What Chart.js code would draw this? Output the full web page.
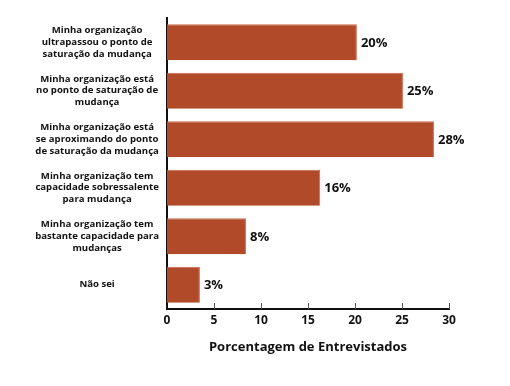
<!DOCTYPE html>
<html>
<head>
<meta charset="utf-8">
<script src="https://cdn.jsdelivr.net/npm/chart.js@4"></script>
<style>
body{margin:0;background:#fff;}
#wrap{width:510px;height:386px;position:relative;}
</style>
</head>
<body>
<div id="wrap"><canvas id="chart"></canvas></div>
<script>
// data
let categories = [
    ["Minha organização", "ultrapassou o ponto de", "saturação da mudança"],
    ["Minha organização está", "no ponto de saturação de", "mudança"],
    ["Minha organização está", "se aproximando do ponto", "de saturação da mudança"],
    ["Minha organização tem", "capacidade sobressalente", "para mudança"],
    ["Minha organização tem", "bastante capacidade para", "mudanças"],
    "Não sei"
];
let values = [20.2, 25.1, 28.4, 16.3, 8.4, 3.5];
let valueLabels = ["20%", "25%", "28%", "16%", "8%", "3%"];
let xTicks = [0, 5, 10, 15, 20, 25, 30];

const FONT = "'Open Sans', 'DejaVu Sans', sans-serif";
const TEXT = "#111";
const BAR = "#b14a29";

// labels at the end of each bar
const valueLabelPlugin = {
    id: "valueLabels",
    afterDatasetsDraw(chart){
        const ctx = chart.ctx;
        const meta = chart.getDatasetMeta(0);
        ctx.save();
        ctx.font = "bold 13px " + FONT;
        ctx.fillStyle = TEXT;
        ctx.textAlign = "left";
        ctx.textBaseline = "middle";
        meta.data.forEach((bar, i)=>{
            ctx.fillText(valueLabels[i], bar.x + 4, bar.y + 1);
        });
        ctx.restore();
    }
};

// small tick marks pointing up into the plot
const innerTicksPlugin = {
    id: "innerTicks",
    afterDraw(chart){
        const ctx = chart.ctx;
        const xs = chart.scales.x;
        const bottom = chart.chartArea.bottom;
        ctx.save();
        ctx.strokeStyle = "#555";
        ctx.lineWidth = 1;
        xTicks.forEach(v=>{
            if(v === 0) return;
            let px = Math.round(xs.getPixelForValue(v)) + 0.5;
            ctx.beginPath();
            ctx.moveTo(px, bottom);
            ctx.lineTo(px, bottom - 6);
            ctx.stroke();
        });
        ctx.restore();
    }
};

new Chart(document.getElementById("chart"), {
    type: "bar",
    data: {
        labels: categories,
        datasets: [{
            data: values,
            backgroundColor: BAR,
            borderColor: "#c8694c",
            borderWidth: {top: 1, right: 1, bottom: 0, left: 0},
            barPercentage: 0.745,
            categoryPercentage: 1
        }]
    },
    options: {
        indexAxis: "y",
        responsive: true,
        maintainAspectRatio: false,
        animation: false,
        layout: {padding: {left: 20, right: 61, top: 18, bottom: 31}},
        plugins: {legend: {display: false}, tooltip: {enabled: false}},
        scales: {
            x: {
                min: 0, max: 30,
                afterBuildTicks: s=>{ s.ticks = xTicks.map(v=>({value: v})); },
                grid: {display: false, drawTicks: false},
                border: {display: true, color: "#111", width: 2},
                ticks: {padding: 4, color: TEXT, font: {family: FONT, size: 12, weight: "bold"}},
                title: {
                    display: true,
                    text: "Porcentagem de Entrevistados",
                    color: TEXT,
                    padding: {top: 8, bottom: 0},
                    font: {family: FONT, size: 13, weight: "bold"}
                }
            },
            y: {
                afterFit: s=>{ s.width = 147; },
                grid: {display: false, drawTicks: false},
                border: {display: true, color: "#111", width: 2},
                ticks: {
                    padding: 8,
                    crossAlign: "center",
                    color: TEXT,
                    font: {family: FONT, size: 9.6, weight: "bold", lineHeight: 1.22}
                }
            }
        }
    },
    plugins: [valueLabelPlugin, innerTicksPlugin]
});
</script>
</body>
</html>
